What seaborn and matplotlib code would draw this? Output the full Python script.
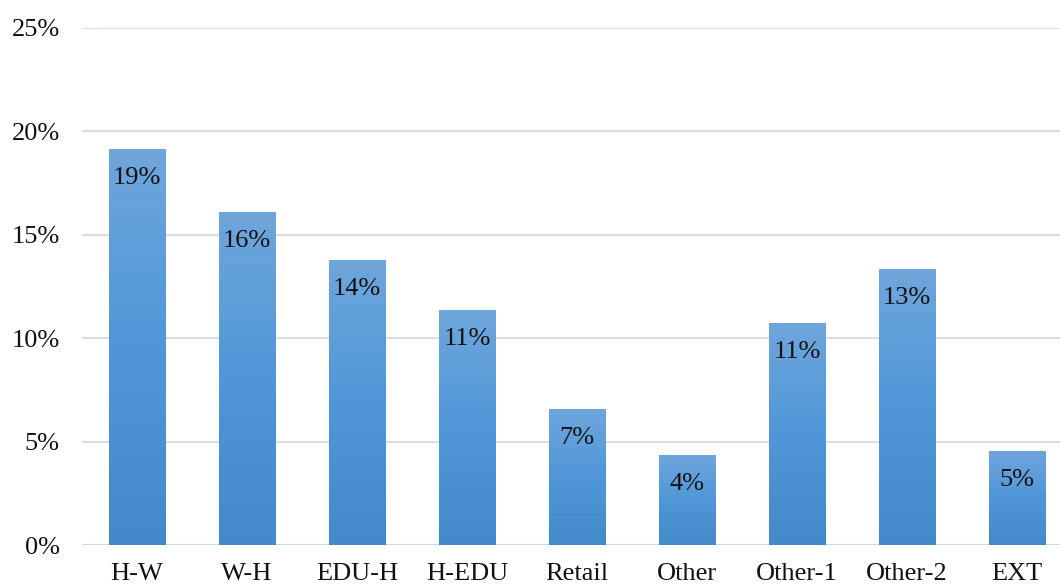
import numpy as np
import pandas as pd
import matplotlib
matplotlib.use("Agg")
import matplotlib.pyplot as plt
import seaborn as sns
from matplotlib.colors import LinearSegmentedColormap
from matplotlib.ticker import FuncFormatter

# Share of trips by purpose
categories = ["H-W", "W-H", "EDU-H", "H-EDU", "Retail", "Other", "Other-1", "Other-2", "EXT"]
shares = [19.15, 16.1, 13.8, 11.35, 6.6, 4.35, 10.75, 13.35, 4.55]
y_ticks = [0, 5, 10, 15, 20, 25]

df = pd.DataFrame({"category": categories, "share": shares})

sns.set_theme(style="white")
plt.rcParams["font.family"] = ["Liberation Serif", "DejaVu Serif"]

fig = plt.figure(figsize=(10.6, 5.85), dpi=100)
ax = fig.add_axes([82 / 1060, 40 / 585, 990 / 1060, 517 / 585])

sns.barplot(data=df, x="category", y="share", ax=ax, width=0.51,
            color="#5b9bd5", saturation=1, edgecolor="none", zorder=2)

ax.set_yticks(y_ticks)
ax.yaxis.set_major_formatter(FuncFormatter(lambda v, _: f"{v:.0f}%"))
ax.grid(axis="y", color="#d9dde5", linewidth=1.5, zorder=0)
ax.set_axisbelow(True)
for s in ax.spines.values():
    s.set_visible(False)
ax.axhline(0, color="#d3d8e0", linewidth=2.0, zorder=1)

ax.set_xlabel("")
ax.set_ylabel("")
ax.tick_params(axis="both", length=0, labelsize=19, colors="#111111")
ax.tick_params(axis="x", pad=13)
ax.tick_params(axis="y", pad=16)

# vertical gradient fill clipped to each bar
cmap = LinearSegmentedColormap.from_list("barfill", ["#428ac9", "#4f97d8", "#6fa6dc"])
grad = np.linspace(0, 1, 256).reshape(-1, 1)
for patch in ax.patches:
    x0 = patch.get_x()
    w = patch.get_width()
    h = patch.get_height()
    patch.set_facecolor("none")
    im = ax.imshow(grad, cmap=cmap, origin="lower", aspect="auto",
                   extent=[x0, x0 + w, 0, h], zorder=2, interpolation="bicubic")
    im.set_clip_path(patch)

ax.set_xlim(-0.5, len(categories) - 0.5)
ax.set_ylim(0, 25)

for i, v in enumerate(shares):
    ax.annotate(f"{round(v):.0f}%", xy=(i, v), xytext=(0, -21),
                textcoords="offset points", ha="center", va="center",
                fontsize=19, color="#111111", zorder=3)

fig.savefig("out.png", dpi=100, facecolor="white")
